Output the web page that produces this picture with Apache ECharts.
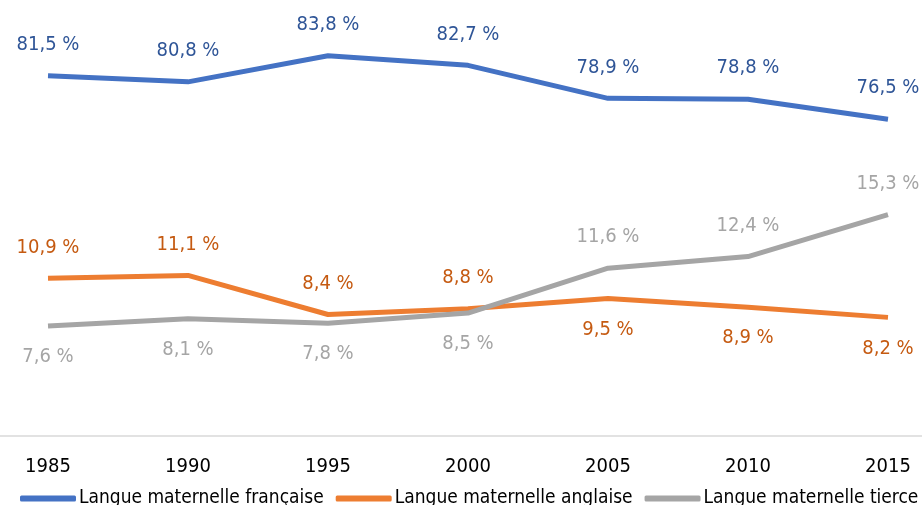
<!DOCTYPE html>
<html>
<head>
<meta charset="utf-8">
<script src="https://cdn.jsdelivr.net/npm/echarts@6/dist/echarts.min.js"></script>
<style>
  html, body { margin: 0; padding: 0; background: #fff; }
  #chart { width: 922px; height: 505px; }
</style>
</head>
<body>
<div id="chart"></div>
<script>
// données
const years = ['1985', '1990', '1995', '2000', '2005', '2010', '2015']
const francaise = [81.5, 80.8, 83.8, 82.7, 78.9, 78.8, 76.5]
const anglaise = [10.9, 11.1, 8.4, 8.8, 9.5, 8.9, 8.2]
const tierce = [7.6, 8.1, 7.8, 8.5, 11.6, 12.4, 15.3]

const FONT = '"DejaVu Sans Condensed", sans-serif'

// côté de l'étiquette pour chaque point
const sideAnglaise = ['top', 'top', 'top', 'top', 'bottom', 'bottom', 'bottom']
const sideTierce = ['bottom', 'bottom', 'bottom', 'bottom', 'top', 'top', 'top']

const fmt = p => p.value.toFixed(1).replace('.', ',') + ' %'

function withSides (values, sides) {
  return values.map((v, i) => ({ value: v, label: { position: sides[i] } }))
}

function serie (name, data, color, labelColor, axis) {
  return {
    name: name,
    type: 'line',
    yAxisIndex: axis,
    data: data,
    symbol: 'circle',
    symbolSize: 0,
    showSymbol: true,
    lineStyle: { width: 5, color: color },
    itemStyle: { color: color },
    label: {
      show: true,
      position: 'top',
      distance: 21,
      formatter: fmt,
      color: labelColor,
      fontSize: 20,
      fontFamily: FONT
    }
  }
}

const chart = echarts.init(document.getElementById('chart'))
chart.setOption({
  animation: false,
  grid: { left: -22, right: -36, top: 2, bottom: 69, outerBoundsMode: 'none' },
  xAxis: {
    type: 'category',
    data: years,
    boundaryGap: true,
    axisLine: { lineStyle: { color: '#d9d9d9', width: 1.5 } },
    axisTick: { show: false },
    axisLabel: { margin: 21, fontSize: 20, color: '#000', fontFamily: FONT }
  },
  yAxis: [
    { type: 'value', min: 40, max: 90, show: false, splitLine: { show: false } },
    { type: 'value', min: 0, max: 30, show: false, splitLine: { show: false } }
  ],
  legend: {
    bottom: -3,
    left: 20,
    width: 1000,
    padding: 0,
    itemWidth: 56,
    itemHeight: 6,
    itemGap: 12,
    icon: 'roundRect',
    textStyle: { fontSize: 19, color: '#000', fontFamily: FONT, padding: [0, 0, 0, -2] },
    data: ['Langue maternelle française', 'Langue maternelle anglaise', 'Langue maternelle tierce']
  },
  series: [
    serie('Langue maternelle française', francaise, '#4472C4', '#2F5597', 0),
    serie('Langue maternelle anglaise', withSides(anglaise, sideAnglaise), '#ED7D31', '#C55A11', 1),
    serie('Langue maternelle tierce', withSides(tierce, sideTierce), '#A5A5A5', '#A5A5A5', 1)
  ]
})
</script>
</body>
</html>
